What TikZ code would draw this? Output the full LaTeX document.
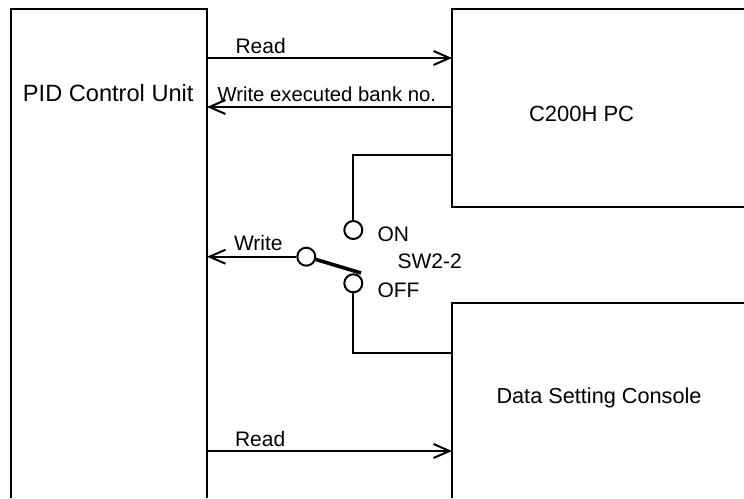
\documentclass[tikz,border=0pt]{standalone}
\usepackage{fontspec}
\setmainfont{Liberation Sans}
\usetikzlibrary{arrows.meta}
\begin{document}
\begin{tikzpicture}[x=1pt,y=-1pt,
  line width=2pt,
  lbl/.style={inner sep=0pt,anchor=base west,font=\fontsize{21}{25}\selectfont},
  boxlbl/.style={inner sep=0pt,anchor=base west,font=\fontsize{22}{26}\selectfont},
  sig/.style={-{Straight Barb[length=16pt,width=14pt,line width=2pt]}},
  contact/.style={circle,draw,line width=2pt,minimum size=18pt,inner sep=0pt,fill=white},
  lever/.style={line width=3.6pt}]
\useasboundingbox (0,0) rectangle (744,498);
% blocks (open at page edge)
\coordinate (pidBL) at (11,498);
\coordinate (pidTL) at (11,9);
\coordinate (pidTR) at (207,9);
\coordinate (pidBR) at (207,498);
\draw (pidBL) -- (pidTL) -- (pidTR) -- (pidBR);
\coordinate (pcTR) at (744,9);
\coordinate (pcTL) at (452,9);
\coordinate (pcBL) at (452,207);
\coordinate (pcBR) at (744,207);
\draw (pcTR) -- (pcTL) -- (pcBL) -- (pcBR);
\coordinate (dscTR) at (744,303);
\coordinate (dscTL) at (452,303);
\coordinate (dscBL) at (452,498);
\draw (dscTR) -- (dscTL) -- (dscBL);
% block labels
\node[boxlbl,font=\fontsize{23.6}{28}\selectfont] (pidtxt) at (22,101) {PID Control Unit};
\node[boxlbl] (pctxt) at (528,121.7) {C200H PC};
\node[boxlbl,font=\fontsize{21.7}{26}\selectfont] (dsctxt) at (495.5,403.3) {Data Setting Console};
% top signals
\coordinate (r1s) at (207,58);
\coordinate (r1e) at (452,58);
\draw[sig] (r1s) -- (r1e);
\node[lbl] (r1txt) at (234.5,53.3) {Read};
\coordinate (w1s) at (452,107);
\coordinate (w1e) at (207,107);
\draw[sig] (w1s) -- (w1e);
\node[lbl,font=\fontsize{20.3}{24}\selectfont] (w1txt) at (216.5,101.7) {Write executed bank no.};
% bottom signal
\coordinate (r2s) at (207,451);
\coordinate (r2e) at (452,451);
\draw[sig] (r2s) -- (r2e);
\node[lbl] (r2txt) at (234,446.7) {Read};
% switch SW2-2
\node[contact] (on) at (353.3,230) {};
\node[contact] (piv) at (306.3,256.7) {};
\node[contact] (off) at (353.3,283.3) {};
\coordinate (pcout) at (452,155);
\coordinate (pccorner) at (353.3,155);
\draw (pcout) -- (pccorner) -- (on.north);
\coordinate (dscin) at (452,353);
\coordinate (dsccorner) at (353.3,353);
\draw (off.south) -- (dsccorner) -- (dscin);
\coordinate (levend) at (361,273);
\draw[lever] (piv.-16) -- (levend);
\coordinate (wend) at (207,256.7);
\draw[sig] (piv.west) -- (wend);
\node[lbl] (wtxt) at (233,250) {Write};
\node[lbl] (ontxt) at (376.5,241.7) {ON};
\node[lbl] (swtxt) at (396.5,268) {SW2-2};
\node[lbl] (offtxt) at (376.5,297) {OFF};
\end{tikzpicture}
\end{document}
